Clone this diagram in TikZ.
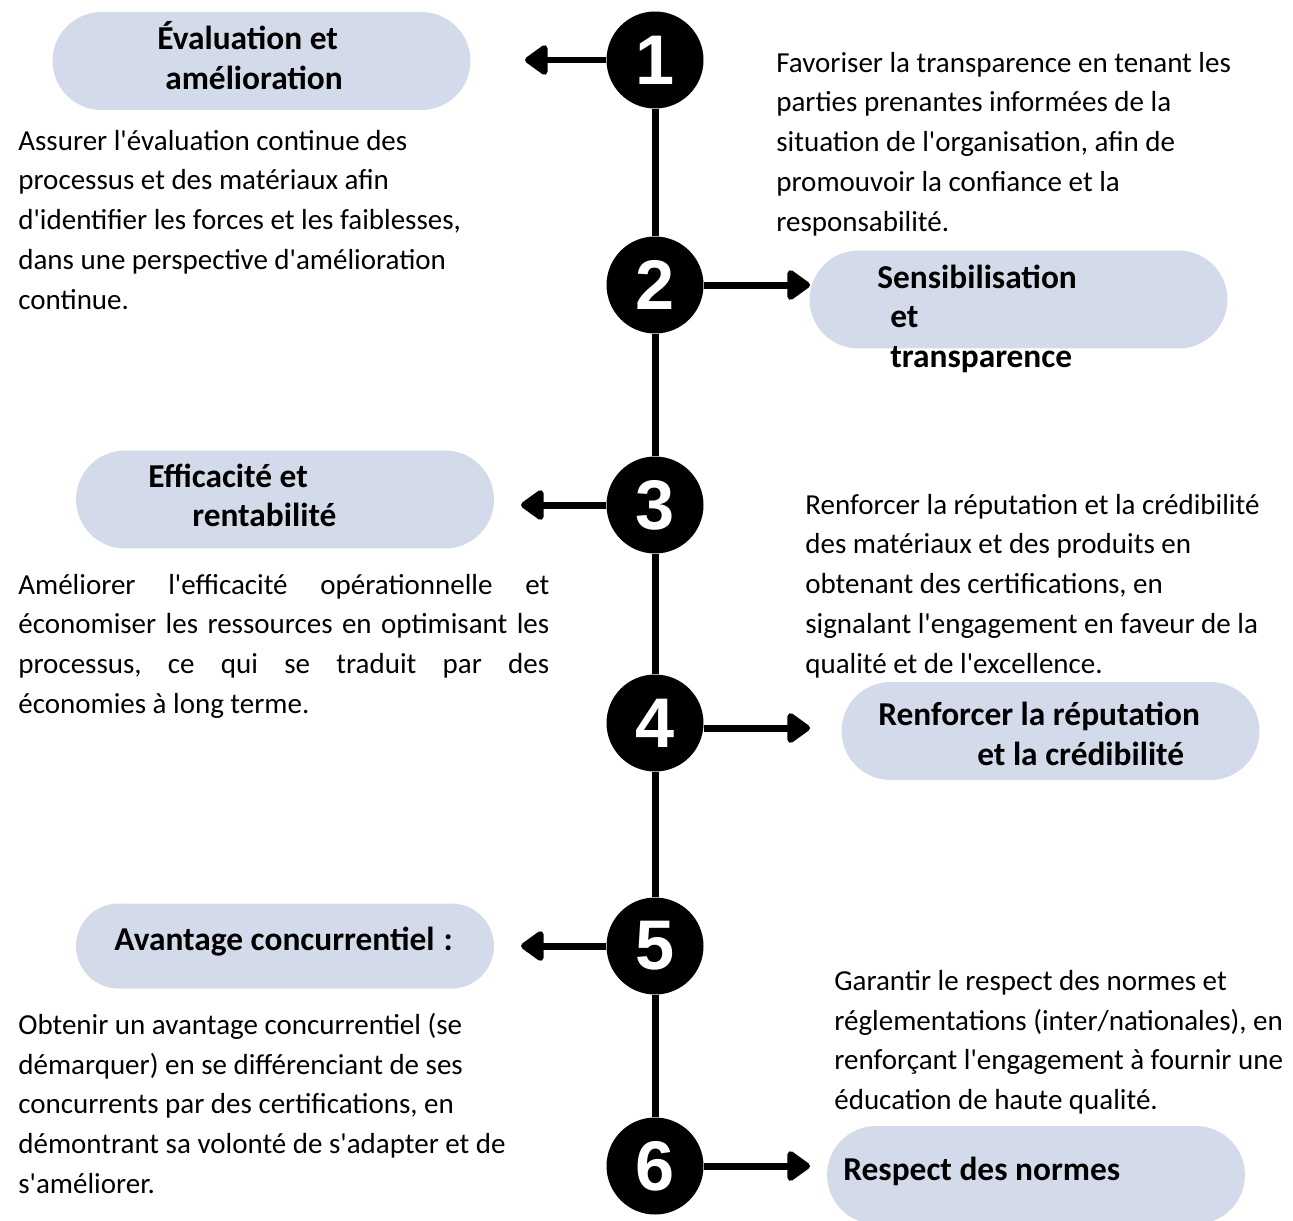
\documentclass[tikz,border=0pt]{standalone}
\usepackage{fontspec}
\setmainfont{Carlito}[Ligatures=TeXOff]
\newfontfamily\numfont{Liberation Sans}
\usetikzlibrary{arrows.meta,shapes.misc}
\definecolor{pillfill}{HTML}{D3DAE9}
\tikzset{
  axis/.style={draw=black, line width=0.14cm},
  arr/.style={draw=black, line width=0.14cm, -{Triangle[length=0.5cm,width=0.68cm,round]}},
  num/.style={circle, fill=black, minimum size=1.94cm, inner sep=0pt, text=white,
    font=\numfont\bfseries\fontsize{40}{40}\selectfont},
  pill/.style={rounded rectangle, fill=pillfill, minimum width=8.36cm, minimum height=1.96cm, inner sep=0pt},
  natural/.style={execute at begin node={\spaceskip=0pt\relax\xspaceskip=0pt\relax}},
  head/.style={anchor=base west, align=left, text width=8cm, inner sep=0pt, natural,
    font=\bfseries\fontsize{19}{22.76}\selectfont},
  body/.style={anchor=base west, align=left, text width=11cm, inner sep=0pt, natural,
    font=\fontsize{16.5}{22.76}\selectfont},
}

\begin{document}
\begin{tikzpicture}[x=0.02cm, y=-0.02cm]
  \useasboundingbox (0,0) rectangle (1293,1220);
  % pills
  \node[pill] (p1) at (261.5,61) {};
  \node[pill] (p2) at (1018.5,299.5) {};
  \node[pill] (p3) at (285,499.5) {};
  \node[pill] (p4) at (1050.5,731) {};
  \node[pill, minimum height=1.7cm] (p5) at (285,946) {};
  \node[pill] (p6) at (1036,1175) {};
  % numbered steps
  \foreach \i/\y in {1/60,2/285,3/505,4/723,5/946,6/1166}
    \node[num] (c\i) at (655,\y) {\i};
  \draw[axis] (c1) -- (c2) (c2) -- (c3) (c3) -- (c4) (c4) -- (c5) (c5) -- (c6);
  % arrow tips
  \coordinate (t1) at (525,60);
  \coordinate (t2) at (810,285);
  \coordinate (t3) at (521,505);
  \coordinate (t4) at (810,728);
  \coordinate (t5) at (521,946);
  \coordinate (t6) at (810,1166);
  \draw[arr] (c1.west) -- (t1);
  \draw[arr] (c2.east) -- (t2);
  \draw[arr] (c3.west) -- (t3);
  \draw[arr] (c4.east |- t4) -- (t4);
  \draw[arr] (c5.west) -- (t5);
  \draw[arr] (c6.east) -- (t6);
  % titles
  \node[head] (h1) at (157,50) {Évaluation et\\\hspace*{0.16cm}amélioration};
  \node[head] (h2) at (877,288) {Sensibilisation\\\hspace*{0.26cm}et\\\hspace*{0.26cm}transparence};
  \node[head] (h3) at (148,487) {Efficacité et\\\hspace*{0.88cm}rentabilité};
  \node[head] (h4) at (878,725) {Renforcer la réputation\\\hspace*{1.98cm}et la crédibilité};
  \node[head] (h5) at (114,950) {Avantage concurrentiel\hspace{0.18cm}:};
  \node[head] (h6) at (843,1180) {Respect des normes};
  % descriptions
  \node[body] (d1) at (18,150) {Assurer l'évaluation continue des\\processus et des matériaux afin\\d'identifier les forces et les faiblesses,\\dans une perspective d'amélioration\\continue.};
  \node[body] (d2) at (776,72) {Favoriser la transparence en tenant les\\parties prenantes informées de la\\situation de l'organisation, afin de\\promouvoir la confiance et la\\responsabilité.};
  \node[body, text width=10.62cm] (d3) at (18,594) {Améliorer\hfill l'efficacité\hfill opérationnelle\hfill et\\économiser\hfill les\hfill ressources\hfill en\hfill optimisant\hfill les\\processus,\hfill ce\hfill qui\hfill se\hfill traduit\hfill par\hfill des\\économies à long terme.};
  \node[body] (d4) at (805,514) {Renforcer la réputation et la crédibilité\\des matériaux et des produits en\\obtenant des certifications, en\\signalant l'engagement en faveur de la\\qualité et de l'excellence.};
  \node[body] (d5) at (834,990) {Garantir le respect des normes et\\réglementations (inter/nationales), en\\renforçant l'engagement à fournir une\\éducation de haute qualité.};
  \node[body] (d6) at (18,1034) {Obtenir un avantage concurrentiel (se\\démarquer) en se différenciant de ses\\concurrents par des certifications, en\\démontrant sa volonté de s'adapter et de\\s'améliorer.};
\end{tikzpicture}
\end{document}
